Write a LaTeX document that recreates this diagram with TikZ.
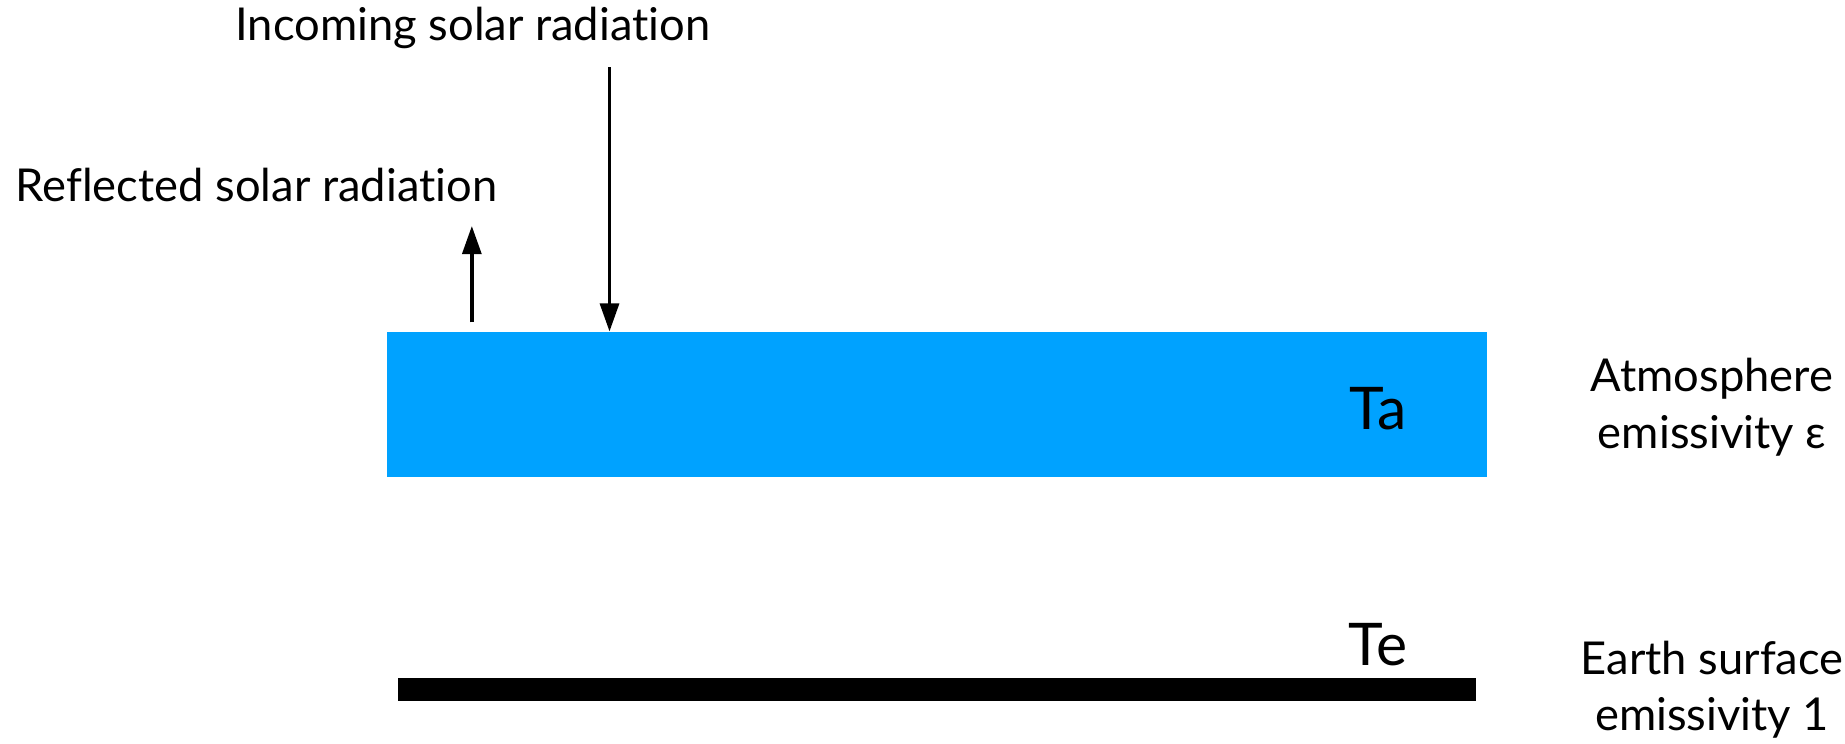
\documentclass[tikz,border=0pt]{standalone}
\usepackage{fontspec}
\setmainfont{Lato}[Ligatures=NoCommon]
\usetikzlibrary{arrows.meta}
\definecolor{atmblue}{HTML}{00A2FF}
\tikzset{
  lbl/.style={font=\fontsize{38.5}{48}\selectfont, inner sep=0pt, align=center},
  big/.style={font=\fontsize{50}{60}\selectfont, inner sep=0pt},
  ray/.style={line width=3.2pt, -{Triangle[length=24pt,width=16pt]}}
}
\begin{document}
\begin{tikzpicture}[x=1pt,y=-1pt]
\useasboundingbox (0,0) rectangle (1568,632);
\node[fill=atmblue, minimum width=935pt, minimum height=123pt, inner sep=0pt] (atm) at (796.5,343.5) {};
\node[fill=black, minimum width=916pt, minimum height=20pt, inner sep=0pt] (earth) at (796,586) {};
\node[lbl] (inc) at (402,24) {Incoming solar radiation};
\node[lbl] (refl) at (218,157) {Reflected solar radiation};
\node[big] (ta) at (1171,347) {Ta};
\node[big] (te) at (1171,548) {Te};
\node[lbl] (atmlab) at (1455,346) {Atmosphere\\emissivity ε};
\node[lbl] (earthlab) at (1455,586) {Earth surface\\emissivity 1};
\coordinate (intop) at (518,57);
\coordinate (reflbot) at (401,274);
\coordinate (refltop) at (401,192);
\draw[ray] (intop) -- (intop |- atm.north);
\draw[ray] (reflbot) -- (refltop);
\end{tikzpicture}
\end{document}
